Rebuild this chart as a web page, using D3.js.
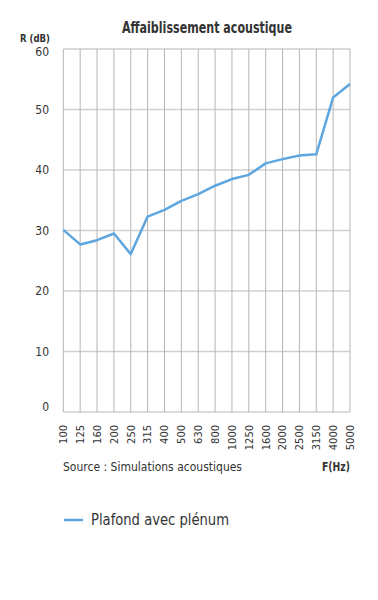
<!DOCTYPE html>
<html>
<head>
<meta charset="utf-8">
<title>Affaiblissement acoustique</title>
<script src="https://d3js.org/d3.v7.min.js"></script>
<style>
  body { margin: 0; background: #fff; }
  text { font-family: "Liberation Sans Narrow", "DejaVu Sans Condensed", "Roboto", sans-serif; fill: #333; }
</style>
</head>
<body>
<div id="chart"></div>
<script>
var width = 378, height = 600;
var freqs = ["100","125","160","200","250","315","400","500","630","800","1000","1250","1600","2000","2500","3150","4000","5000"];
var values = [30.1, 27.7, 28.4, 29.5, 26.1, 32.3, 33.4, 34.9, 36.0, 37.4, 38.5, 39.2, 41.1, 41.8, 42.4, 42.6, 52.0, 54.2];
var yTicks = [0, 10, 20, 30, 40, 50, 60];
var seriesName = "Plafond avec plénum";

var m = { left: 63.3, right: 350, top: 49, bottom: 412 };

var svg = d3.select("#chart").append("svg")
    .attr("width", width)
    .attr("height", height);

var x = d3.scalePoint().domain(freqs).range([m.left, m.right]);
var y = d3.scaleLinear().domain([0, 60]).range([m.bottom, m.top]);

// horizontal grid
svg.selectAll(".hgrid")
    .data(yTicks)
    .enter().append("line")
    .attr("x1", m.left).attr("x2", m.right)
    .attr("y1", function(d){ return y(d); })
    .attr("y2", function(d){ return y(d); })
    .attr("stroke", function(d){ return d === 0 || d === 60 ? "#b5b5b5" : "#d0d0d0"; })
    .attr("stroke-width", function(d){ return d === 0 || d === 60 ? 1 : 1.5; });

// vertical grid
svg.selectAll(".vgrid")
    .data(freqs)
    .enter().append("line")
    .attr("x1", function(d){ return x(d); })
    .attr("x2", function(d){ return x(d); })
    .attr("y1", m.top).attr("y2", m.bottom)
    .attr("stroke", "#b5b5b5")
    .attr("stroke-width", 1);

// y labels
svg.selectAll(".ylab")
    .data(yTicks)
    .enter().append("text")
    .attr("x", 49)
    .attr("y", function(d){ return y(d) + (d === 0 ? -5 : d === 60 ? 3 : 0); })
    .attr("dy", "0.35em")
    .attr("text-anchor", "end")
    .attr("font-size", 12)
    .text(function(d){ return d; });

// x labels
svg.selectAll(".xlab")
    .data(freqs)
    .enter().append("text")
    .attr("transform", function(d){ return "translate(" + x(d) + ",425) rotate(-90)"; })
    .attr("dy", "0.35em")
    .attr("text-anchor", "end")
    .attr("font-size", 11)
    .text(function(d){ return d; });

// line
var line = d3.line()
    .x(function(d, i){ return x(freqs[i]); })
    .y(function(d){ return y(d); });

svg.append("path")
    .datum(values)
    .attr("d", line)
    .attr("fill", "none")
    .attr("stroke", "#5ea6df")
    .attr("stroke-width", 2.5)
    .attr("stroke-linejoin", "round");

// titles
svg.append("text")
    .attr("x", 207).attr("y", 33)
    .attr("text-anchor", "middle")
    .attr("font-size", 15)
    .attr("textLength", 170)
    .attr("lengthAdjust", "spacingAndGlyphs")
    .attr("fill", "#222")
    .style("font-weight", 600)
    .text("Affaiblissement acoustique");

svg.append("text")
    .attr("x", 20).attr("y", 42)
    .attr("font-size", 10.5)
    .attr("font-weight", "bold")
    .attr("textLength", 30)
    .attr("lengthAdjust", "spacingAndGlyphs")
    .text("R (dB)");

svg.append("text")
    .attr("x", 63).attr("y", 471)
    .attr("font-size", 12.5)
    .attr("textLength", 179)
    .attr("lengthAdjust", "spacingAndGlyphs")
    .text("Source : Simulations acoustiques");

svg.append("text")
    .attr("x", 350).attr("y", 471)
    .attr("text-anchor", "end")
    .attr("font-size", 13)
    .attr("font-weight", "bold")
    .attr("textLength", 28)
    .attr("lengthAdjust", "spacingAndGlyphs")
    .text("F(Hz)");

// legend
svg.append("line")
    .attr("x1", 64).attr("x2", 83)
    .attr("y1", 520).attr("y2", 520)
    .attr("stroke", "#5ea6df")
    .attr("stroke-width", 2.5);

svg.append("text")
    .attr("x", 91).attr("y", 520)
    .attr("dy", "0.35em")
    .attr("font-size", 15)
    .attr("fill", "#444")
    .attr("textLength", 138)
    .attr("lengthAdjust", "spacingAndGlyphs")
    .text(seriesName);
</script>
</body>
</html>
